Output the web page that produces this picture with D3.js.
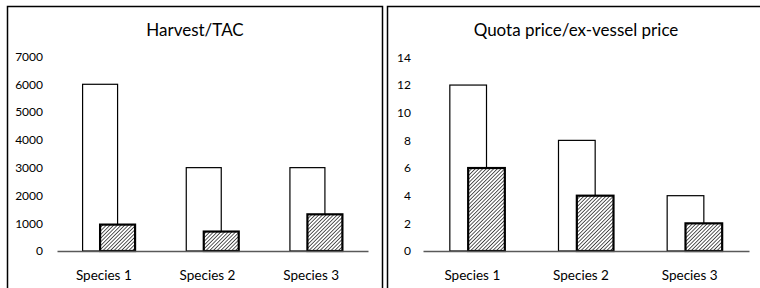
<!DOCTYPE html>
<html>
<head>
<meta charset="utf-8">
<script src="https://cdn.jsdelivr.net/npm/d3@7"></script>
<style>
  body { margin: 0; background: #fff; }
  svg { display: block; font-family: Lato, "Open Sans", sans-serif; }
</style>
</head>
<body>
<svg id="chart" width="760" height="288"></svg>
<script>
// categories and series
const species = ['Species 1', 'Species 2', 'Species 3'];
const tac = [6000, 3000, 3000];          // white bars, left panel
const harvest = [950, 700, 1320];        // hatched bars, left panel
const exVesselPrice = [12, 8, 4];        // white bars, right panel
const quotaPrice = [6, 4, 2];            // hatched bars, right panel
const harvestTicks = [0, 1000, 2000, 3000, 4000, 5000, 6000, 7000];
const priceTicks = [0, 2, 4, 6, 8, 10, 12, 14];

const svg = d3.select('#chart');

// diagonal hatch for the second series
const defs = svg.append('defs');
const pat = defs.append('pattern')
    .attr('id', 'hatch')
    .attr('patternUnits', 'userSpaceOnUse')
    .attr('width', 2.6)
    .attr('height', 2.6)
    .attr('patternTransform', 'rotate(45)');
pat.append('rect').attr('width', 2.6).attr('height', 2.6).attr('fill', '#fff');
pat.append('line')
    .attr('x1', 0).attr('y1', 0).attr('x2', 0).attr('y2', 2.6)
    .attr('stroke', '#000').attr('stroke-width', 1.3);

// cut-off caption above the panels (only the descender shows)
svg.append('text')
    .attr('x', 437).attr('y', -3)
    .attr('font-size', 18)
    .text('y');

function drawPanel(cfg) {
    const g = svg.append('g');

    // panel frame (runs past the picture edge)
    g.append('rect')
        .attr('x', cfg.frame[0]).attr('y', 6.5)
        .attr('width', cfg.frame[1] - cfg.frame[0]).attr('height', 320)
        .attr('fill', 'none').attr('stroke', '#000').attr('stroke-width', 1.5);

    g.append('text')
        .attr('x', cfg.titleX).attr('y', 36)
        .attr('text-anchor', 'middle')
        .attr('font-size', 17)
        .text(cfg.title);

    const x = d3.scaleBand().domain(species).range(cfg.xRange);
    const y = d3.scaleLinear().domain([0, cfg.ticks[cfg.ticks.length - 1]]).range([251, cfg.yTop]);
    const barW = x.bandwidth() * 0.3375;

    // y axis: labels only
    const ya = g.append('g')
        .attr('transform', `translate(${cfg.xRange[0]},0)`)
        .call(d3.axisLeft(y).tickValues(cfg.ticks).tickFormat(d3.format('d'))
            .tickSize(0).tickPadding(cfg.yPad));
    ya.select('.domain').remove();
    ya.selectAll('text').attr('font-size', 12).attr('fill', '#000')
        .attr('font-family', 'Lato, sans-serif');

    // white bars
    g.selectAll('.back')
        .data(cfg.back)
        .join('rect')
        .attr('x', (d, i) => x(species[i]) + x.bandwidth() / 2 - 0.75 * barW)
        .attr('y', d => y(d))
        .attr('width', barW)
        .attr('height', d => y(0) - y(d))
        .attr('fill', '#fff')
        .attr('stroke', '#000')
        .attr('stroke-width', 1.2);

    // hatched bars overlap the white ones by half
    g.selectAll('.front')
        .data(cfg.front)
        .join('rect')
        .attr('x', (d, i) => x(species[i]) + x.bandwidth() / 2 - 0.25 * barW)
        .attr('y', d => y(d))
        .attr('width', barW)
        .attr('height', d => y(0) - y(d))
        .attr('fill', 'url(#hatch)')
        .attr('stroke', '#000')
        .attr('stroke-width', 2.2);

    // x axis
    const xa = g.append('g')
        .attr('transform', 'translate(0,251)')
        .call(d3.axisBottom(x).tickSize(0).tickSizeOuter(0).tickPadding(19));
    xa.select('.domain').attr('stroke', '#595959').attr('stroke-width', 1.3);
    xa.selectAll('text').attr('font-size', 13.5).attr('fill', '#000')
        .attr('font-family', 'Lato, sans-serif')
        .attr('dx', -5);
}

drawPanel({
    title: 'Harvest/TAC',
    titleX: 195,
    frame: [7.5, 382.5],
    xRange: [57, 368],
    yTop: 56.5,
    yPad: 14,
    ticks: harvestTicks,
    back: tac,
    front: harvest
});

drawPanel({
    title: 'Quota price/ex-vessel price',
    titleX: 576,
    frame: [387.5, 800],
    xRange: [423, 749],
    yTop: 57.4,
    yPad: 12,
    ticks: priceTicks,
    back: exVesselPrice,
    front: quotaPrice
});
</script>
</body>
</html>
